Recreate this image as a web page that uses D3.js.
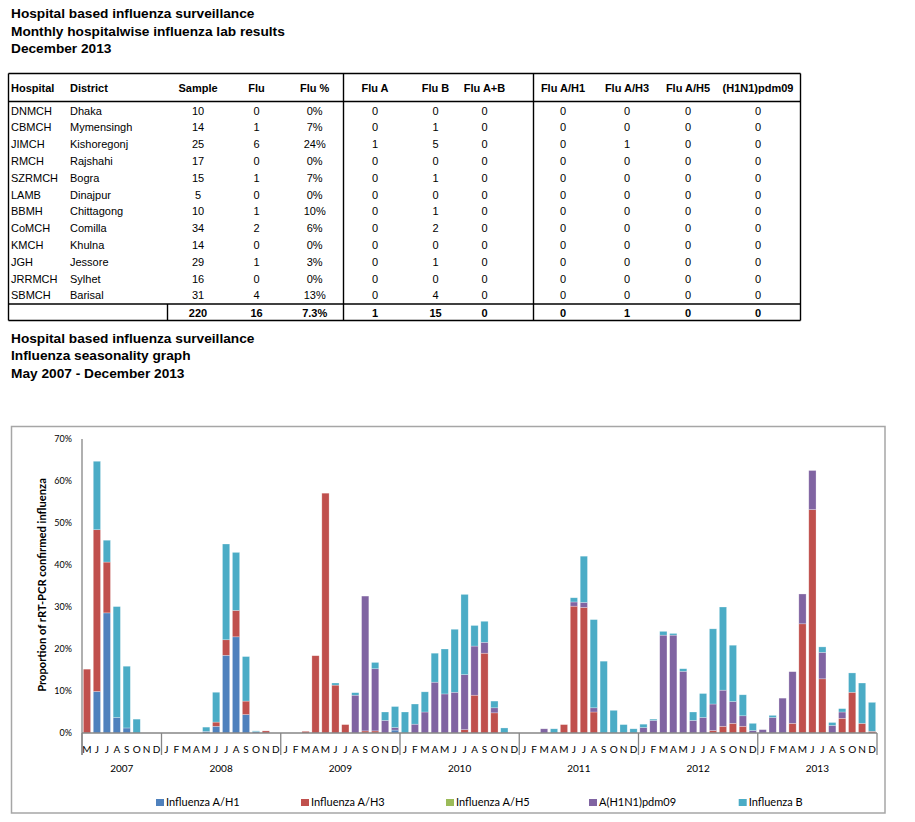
<!DOCTYPE html>
<html><head><meta charset="utf-8">
<script src="https://cdn.jsdelivr.net/npm/d3@7"></script>
<style>body{margin:0;background:#fff}svg{display:block}</style>
</head><body>
<svg id="c" width="915" height="822"></svg>
<script>
// ---------- Table data ----------
const hospitals = ["DNMCH","CBMCH","JIMCH","RMCH","SZRMCH","LAMB","BBMH","CoMCH","KMCH","JGH","JRRMCH","SBMCH"];
const districts = ["Dhaka","Mymensingh","Kishoregonj","Rajshahi","Bogra","Dinajpur","Chittagong","Comilla","Khulna","Jessore","Sylhet","Barisal"];
const samples   = [10,14,25,17,15,5,10,34,14,29,16,31];
const fluPos    = [0,1,6,0,1,0,1,2,0,1,0,4];
const fluPct    = ["0%","7%","24%","0%","7%","0%","10%","6%","0%","3%","0%","13%"];
const fluA      = [0,0,1,0,0,0,0,0,0,0,0,0];
const fluBcnt   = [0,1,5,0,1,0,1,2,0,1,0,4];
const fluAB     = [0,0,0,0,0,0,0,0,0,0,0,0];
const fluAH1    = [0,0,0,0,0,0,0,0,0,0,0,0];
const fluAH3    = [0,0,1,0,0,0,0,0,0,0,0,0];
const fluAH5    = [0,0,0,0,0,0,0,0,0,0,0,0];
const pdm09cnt  = [0,0,0,0,0,0,0,0,0,0,0,0];
const totals    = ["220","16","7.3%","1","15","0","0","1","0","0"];
const tableHeaders = ["Hospital","District","Sample","Flu","Flu %","Flu A","Flu B","Flu A+B","Flu A/H1","Flu A/H3","Flu A/H5","(H1N1)pdm09"];

// ---------- Chart data (percent of samples), May 2007 - Dec 2013 ----------
const monthLetters = ["J","F","M","A","M","J","J","A","S","O","N","D"];
const years = ["2007","2008","2009","2010","2011","2012","2013"];
const seriesNames = ["Influenza A/H1","Influenza A/H3","Influenza A/H5","A(H1N1)pdm09","Influenza B"];
const seriesColors = ["#4F81BD","#C0504D","#9BBB59","#8064A2","#4BACC6"];
const yTicks = [0,10,20,30,40,50,60,70];

const h1 = [
 0,9.9,28.6,3.7,1.2,0,0,0,
 0,0,0,0,0.4,1.6,18.5,22.9,4.4,0.3,0,0,
 0,0,0,0,0,0,0,0,0,0,0,0.7,
 0,0,0,0,0,0,0,0,0,0,0,0,
 0,0,0,0,0,0,0,0,0,0,0,0,
 0,0,0,0,0,0,0,0,0,0,0,0,
 0,0,0,0,0,0,0,0,0,0,0,0];
const h3 = [
 15.2,38.5,12.1,0,0,0,0,0,
 0,0,0,0,0,1.0,3.7,6.3,3.2,0,0.5,0,
 0,0,0.4,18.4,57.1,11.4,2.0,0,0.5,0.5,0,0,
 0,0,0,0,0,0,0.8,9.0,19.0,4.8,0,0,
 0,0,0,0,2.0,30.2,29.9,5.0,0,0,0,0,
 0,0,0,0,0,0,0,0.6,1.6,2.3,1.6,0,
 0,0,0,2.3,26.0,53.2,12.9,0,3.5,9.7,2.3,0.4];
const h5 = new Array(80).fill(0);
const pdm = [
 0,0,0,0,0,0,0,0,
 0,0,0,0,0,0,0,0,0,0,0,0,
 0,0,0,0,0,0,0,9.0,32.1,14.8,3.0,0.6,
 0,2.1,5.0,12.1,9.3,9.7,13.1,11.7,2.6,1.2,0,0,
 0,0,1.0,0,0,1.0,1.2,1.0,0,0,0,0,
 1.3,3.0,23.3,23.3,14.7,3.0,3.7,6.3,8.6,5.2,2.5,0.6,
 0.8,3.7,8.3,12.3,7.1,9.3,6.3,1.8,1.5,0,0,0];
const fluB = [
 0,16.3,5.2,26.4,14.7,3.3,0,0,
 0,0,0,0,1.0,7.1,22.8,13.8,10.6,0.2,0,0,
 0,0,0,0,0,0.5,0,0.6,0,1.5,2.0,5.0,
 5.0,4.8,4.8,6.9,10.7,15.0,19.1,4.9,5.0,1.6,1.2,0,
 0,0,0,1.0,0,1.0,11.0,21.0,17.1,5.4,2.0,1.0,
 0.8,0.3,0.9,0.4,0.6,2.0,5.7,17.9,19.8,13.4,5.0,1.7,
 0,0.5,0,0,0,0,1.3,0.7,0.8,4.6,9.6,6.9];

const svg = d3.select("#c");
const tFont = "'Liberation Sans', Arial, sans-serif";
const cFont = "Lato, 'Open Sans', sans-serif";

// ---------- Titles ----------
const title1 = ["Hospital based influenza surveillance","Monthly hospitalwise influenza lab results","December 2013"];
const title2 = ["Hospital based influenza surveillance","Influenza seasonality graph","May 2007 - December 2013"];
svg.append("g").selectAll("text").data(title1).join("text")
  .attr("x",11).attr("y",(d,i)=>18.3+i*17.5).text(d=>d)
  .attr("font-family",tFont).attr("font-weight","bold").attr("font-size","13.7px").attr("fill","#000");
svg.append("g").selectAll("text").data(title2).join("text")
  .attr("x",11).attr("y",(d,i)=>342.5+i*17.8).text(d=>d)
  .attr("font-family",tFont).attr("font-weight","bold").attr("font-size","13.7px").attr("fill","#000");

// ---------- Table ----------
const tg = svg.append("g").attr("font-family",tFont).attr("font-size","11px").attr("fill","#000");
const colX = [11,70,198,256.5,314.7,375,435.5,484.5,563,627,688,758];
const colAnchor = ["start","start","middle","middle","middle","middle","middle","middle","middle","middle","middle","middle"];
tg.selectAll("text.h").data(tableHeaders).join("text").attr("class","h")
  .attr("x",(d,i)=>colX[i]).attr("y",92).attr("text-anchor",(d,i)=>colAnchor[i])
  .attr("font-weight","bold").text(d=>d);
const rows = hospitals.map((h,i)=>[h,districts[i],samples[i],fluPos[i],fluPct[i],fluA[i],fluBcnt[i],fluAB[i],fluAH1[i],fluAH3[i],fluAH5[i],pdm09cnt[i]]);
const rowY = d3.scaleLinear().domain([0,11]).range([114.6,299.4]);
rows.forEach((r,ri)=>{
  tg.append("g").selectAll("text").data(r).join("text")
    .attr("x",(d,i)=>colX[i]).attr("y",rowY(ri)).attr("text-anchor",(d,i)=>colAnchor[i]).text(d=>d);
});
tg.append("g").selectAll("text").data(totals).join("text")
  .attr("x",(d,i)=>colX[i+2]).attr("y",316.5).attr("text-anchor","middle")
  .attr("font-weight","bold").text(d=>d);
const lg = svg.append("g").attr("stroke","#000").attr("stroke-width",1.4);
[[8.5,73.5,800.5,73.5],[8.5,101.5,800.5,101.5],[8.5,304,800.5,304],[8.5,320.5,800.5,320.5],
 [8.5,73.5,8.5,320.5],[343.5,73.5,343.5,320.5],[533.5,73.5,533.5,320.5],[800.5,73.5,800.5,320.5],
 [167.5,304,167.5,320.5]].forEach(l=>lg.append("line").attr("x1",l[0]).attr("y1",l[1]).attr("x2",l[2]).attr("y2",l[3]));

// ---------- Chart ----------
svg.append("rect").attr("x",11.5).attr("y",426.5).attr("width",873.5).attr("height",386.5)
  .attr("fill","none").attr("stroke","#a6a6a6").attr("stroke-width",1.5);

const N = h1.length;
const monthLabel = d3.range(N).map(i=>monthLetters[(i+4)%12]);
const data = d3.range(N).map(i=>({i, h1:h1[i], h3:h3[i], h5:h5[i], pdm:pdm[i], b:fluB[i]}));
const keys = ["h1","h3","h5","pdm","b"];
const stack = d3.stack().keys(keys)(data);

const x = d3.scaleBand().domain(d3.range(N)).range([82,877]).paddingInner(0.27).paddingOuter(0.135);
const y = d3.scaleLinear().domain([0,70]).range([733,439]);
const color = d3.scaleOrdinal().domain(keys).range(seriesColors);

svg.append("g").selectAll("g").data(stack).join("g").attr("fill",d=>color(d.key))
  .selectAll("rect").data(d=>d.filter(s=>s[1]-s[0]>0)).join("rect")
  .attr("x",d=>x(d.data.i)).attr("width",x.bandwidth())
  .attr("y",d=>y(d[1])).attr("height",d=>y(d[0])-y(d[1]))
  .attr("stroke","#ffffff").attr("stroke-opacity",0.45).attr("stroke-width",0.6);

// y axis
const ya = svg.append("g").attr("transform","translate(82,0)")
  .call(d3.axisLeft(y).tickValues(yTicks).tickFormat(d=>d+"%").tickSize(0).tickPadding(10));
ya.select(".domain").remove();
ya.selectAll("text").attr("font-family",cFont).attr("font-size","9px").attr("fill","#000");
svg.append("line").attr("x1",82).attr("x2",82).attr("y1",439).attr("y2",755).attr("stroke","#868686").attr("stroke-width",1.3);

// x axis
const xa = svg.append("g").attr("transform","translate(0,733)")
  .call(d3.axisBottom(x).tickFormat(i=>monthLabel[i]).tickSize(0).tickPadding(13));
xa.select(".domain").remove();
xa.selectAll("text").attr("font-family",cFont).attr("font-size","10px").attr("fill","#000");
svg.append("line").attr("x1",82).attr("x2",877).attr("y1",733).attr("y2",733).attr("stroke","#868686").attr("stroke-width",1.6);

// year separators and labels
const step = x.step();
const yearStart = [0];
d3.range(N).forEach(i=>{ if(monthLabel[i]==="J" && (i===0 || monthLabel[i-1]==="D")) yearStart.push(i); });
yearStart.push(N);
const bounds = yearStart.map(i=>82+i*step);
svg.append("g").selectAll("line").data(bounds).join("line")
  .attr("x1",d=>d).attr("x2",d=>d).attr("y1",733).attr("y2",755)
  .attr("stroke","#868686").attr("stroke-width",1.3);
svg.append("g").selectAll("text").data(years).join("text")
  .attr("x",(d,i)=>(bounds[i]+bounds[i+1])/2).attr("y",772).attr("text-anchor","middle")
  .attr("font-family",cFont).attr("font-size","10px").attr("fill","#000").text(d=>d);

// y title
svg.append("text").attr("transform","translate(46,585) rotate(-90)").attr("text-anchor","middle")
  .attr("font-family",cFont).attr("font-weight","bold").attr("font-size","11.2px").attr("fill","#000")
  .text("Proportion of rRT-PCR confirmed influenza");

// legend
const legX = [156,301,446,589,738.7];
const leg = svg.append("g").selectAll("g").data(seriesNames).join("g")
  .attr("transform",(d,i)=>`translate(${legX[i]},799)`);
leg.append("rect").attr("width",8).attr("height",7).attr("fill",(d,i)=>seriesColors[i]);
leg.append("text").attr("x",10).attr("y",7).text(d=>d)
  .attr("font-family",cFont).attr("font-size","11px").attr("fill","#000");
</script>
</body></html>
